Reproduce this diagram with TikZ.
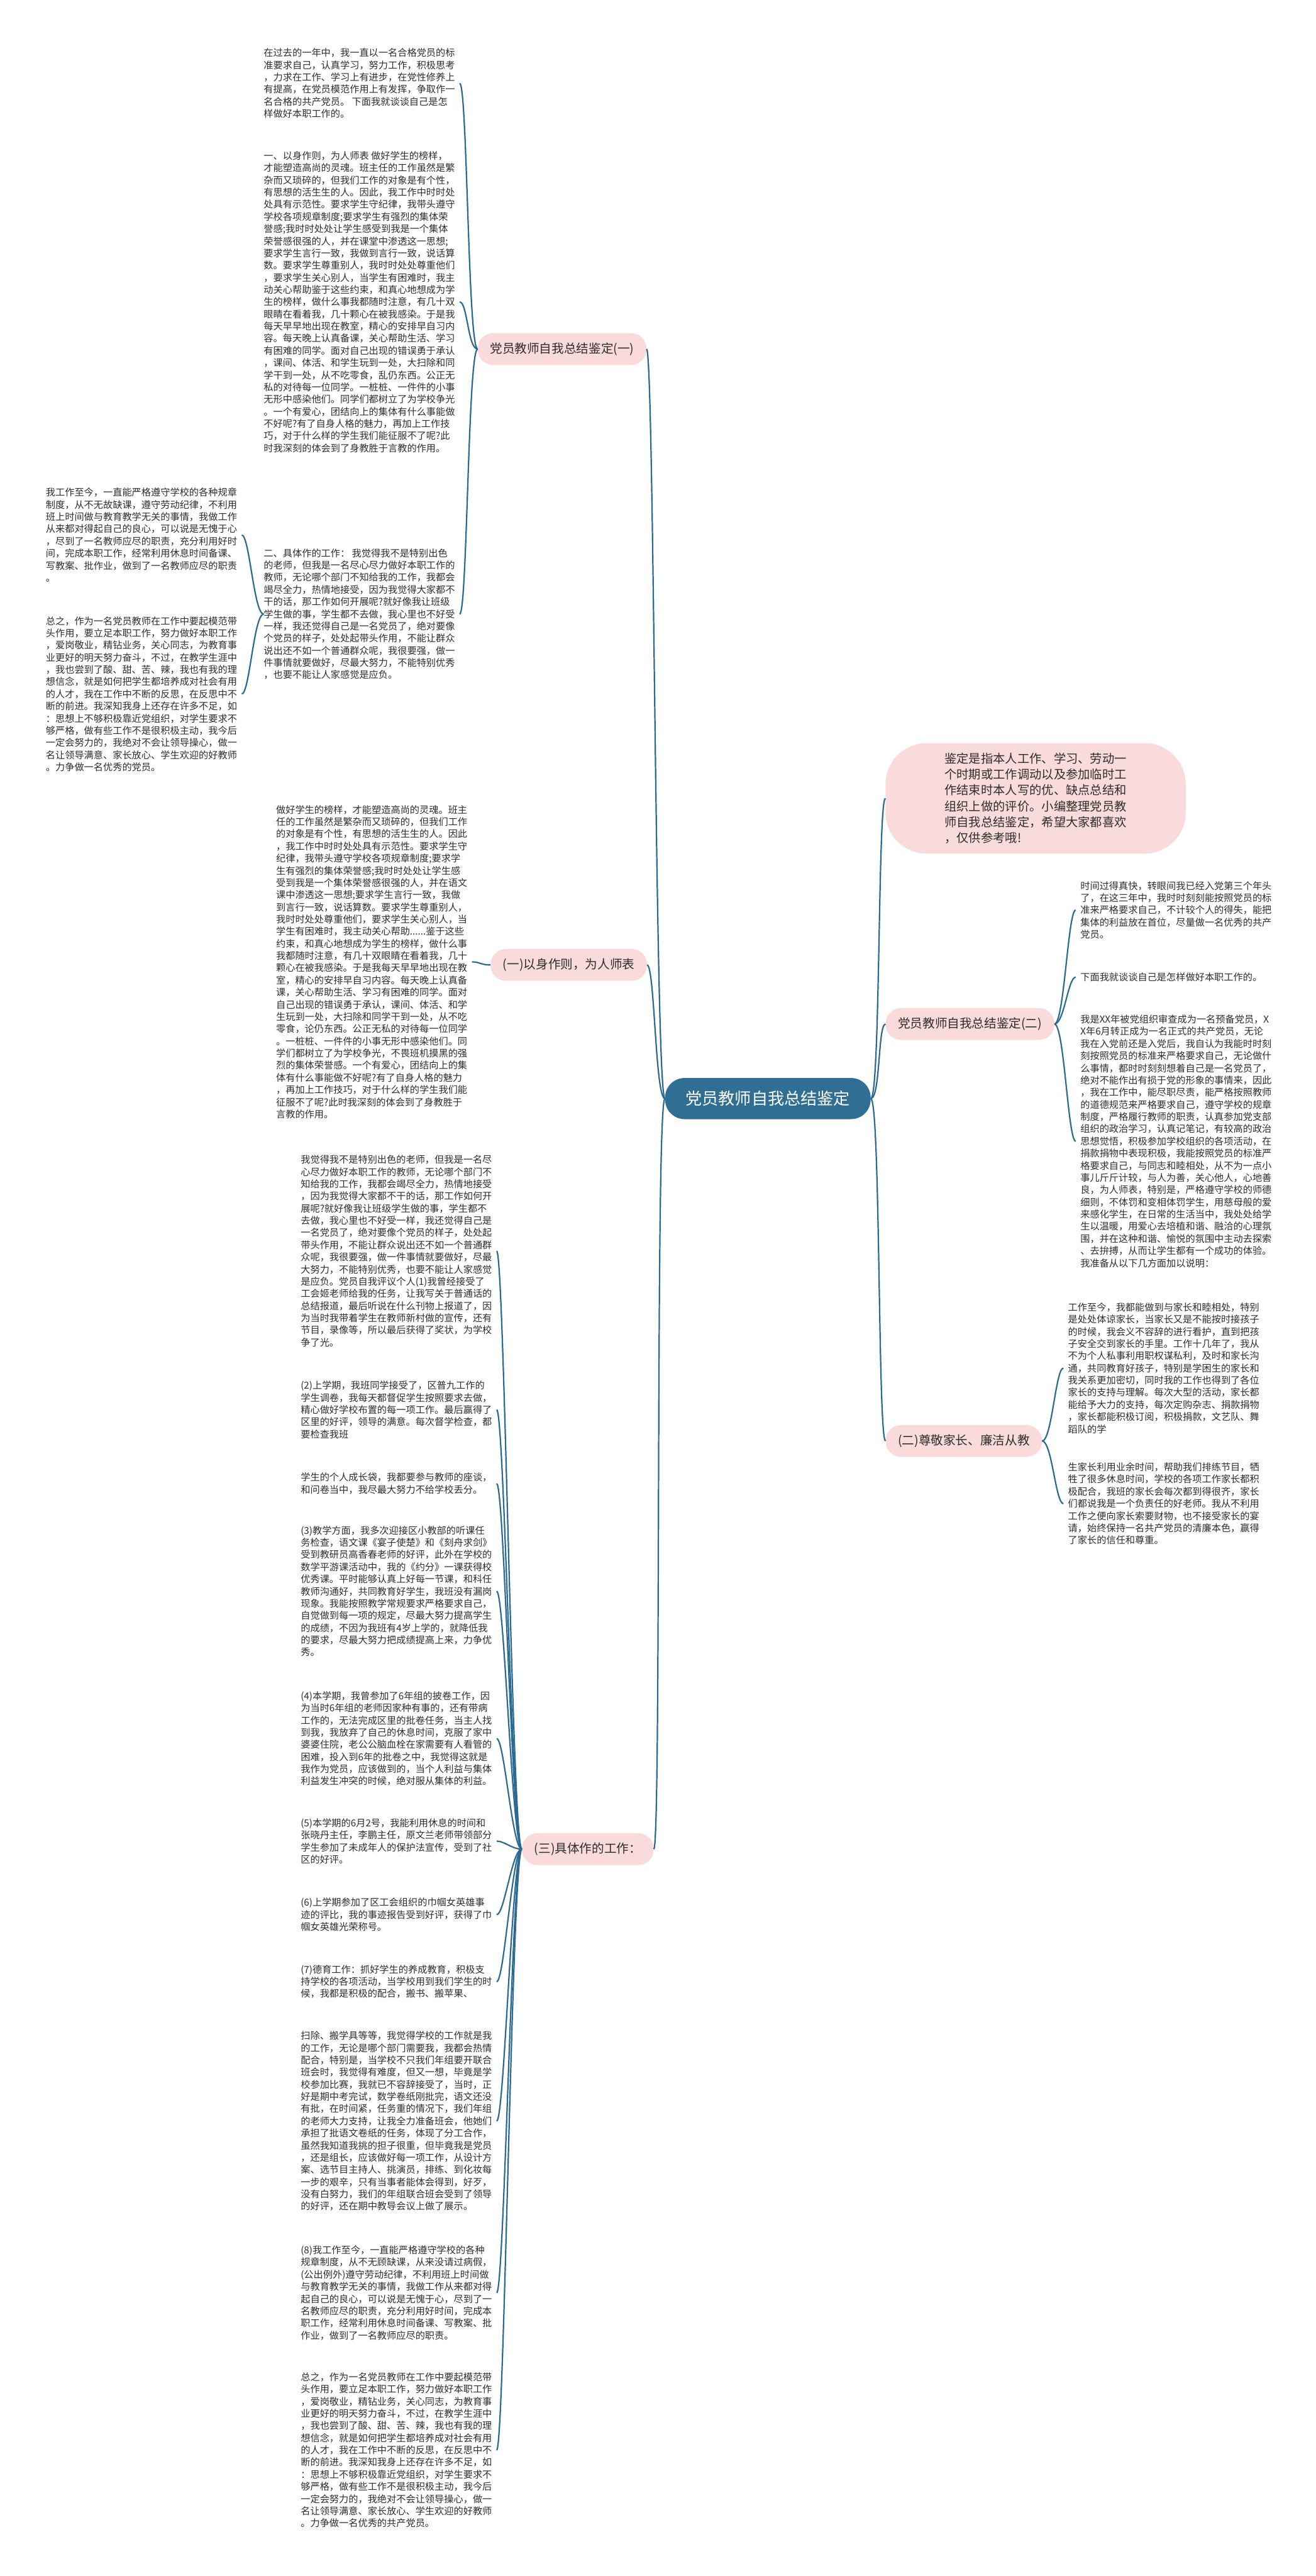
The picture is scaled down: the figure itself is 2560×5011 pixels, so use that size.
\documentclass[tikz,border=0pt]{standalone}
\usepackage{fontspec}
\newfontfamily\cjk{Noto Sans CJK SC}
\definecolor{linkblue}{RGB}{45,106,146}
\definecolor{rootblue}{RGB}{48,110,148}
\definecolor{pinkbg}{RGB}{250,219,219}
\definecolor{txtgray}{RGB}{45,45,45}
\begin{document}
\begin{tikzpicture}[x=1pt, y=-1pt,
  link/.style={draw=linkblue, line width=2.7pt},
  tol/.style={to path={.. controls ([xshift=-19pt]\tikztostart) and ([xshift=15pt]\tikztotarget) .. (\tikztotarget)}},
  tor/.style={to path={.. controls ([xshift=19pt]\tikztostart) and ([xshift=-15pt]\tikztotarget) .. (\tikztotarget)}},
  root/.style={fill=rootblue, text=white, rounded corners=38pt, minimum height=80pt, minimum width=400pt, font=\cjk\fontsize{32}{38}\selectfont},
  topic/.style={fill=pinkbg, text=txtgray, rounded corners=30pt, minimum height=62pt, inner xsep=24pt, font=\cjk\fontsize{24}{30}\selectfont},
  note/.style={fill=pinkbg, text=txtgray, rounded corners=80pt, minimum width=584pt, minimum height=215pt, align=left, font=\cjk\fontsize{23.6}{31}\selectfont},
  txt/.style={anchor=north west, inner sep=0pt, align=left, text=txtgray, font=\cjk\fontsize{18.6}{23.7}\selectfont}]
\fill[white] (0,0) rectangle (2560,5011);

% centre and main topics
\node[root] (root) at (1494,2137) {党员教师自我总结鉴定};
\node[topic, anchor=east] (part1) at (1258,679) {党员教师自我总结鉴定(一)};
\node[topic, anchor=east] (model) at (1259,1877) {(一)以身作则，为人师表};
\node[topic, anchor=east] (works) at (1272,3597) {(三)具体作的工作：};
\node[note] (intro) at (2015,1553) {鉴定是指本人工作、学习、劳动一\\个时期或工作调动以及参加临时工\\作结束时本人写的优、缺点总结和\\组织上做的评价。小编整理党员教\\师自我总结鉴定，希望大家都喜欢\\，仅供参考哦!};
\node[topic, anchor=west] (part2) at (1723,1992) {党员教师自我总结鉴定(二)};
\node[topic, anchor=west] (parents) at (1723,2803) {(二)尊敬家长、廉洁从教};

% texts of part one
\node[txt] (year) at (513,94) {在过去的一年中，我一直以一名合格党员的标\\准要求自己，认真学习，努力工作，积极思考\\，力求在工作、学习上有进步，在党性修养上\\有提高，在党员模范作用上有发挥，争取作一\\名合格的共产党员。 下面我就谈谈自己是怎\\样做好本职工作的。};
\node[txt] (first) at (513,294) {一、以身作则，为人师表 做好学生的榜样，\\才能塑造高尚的灵魂。班主任的工作虽然是繁\\杂而又琐碎的，但我们工作的对象是有个性，\\有思想的活生生的人。因此，我工作中时时处\\处具有示范性。要求学生守纪律，我带头遵守\\学校各项规章制度;要求学生有强烈的集体荣\\誉感;我时时处处让学生感受到我是一个集体\\荣誉感很强的人，并在课堂中渗透这一思想;\\要求学生言行一致，我做到言行一致，说话算\\数。要求学生尊重别人，我时时处处尊重他们\\，要求学生关心别人，当学生有困难时，我主\\动关心帮助鉴于这些约束，和真心地想成为学\\生的榜样，做什么事我都随时注意，有几十双\\眼睛在看着我，几十颗心在被我感染。于是我\\每天早早地出现在教室，精心的安排早自习内\\容。每天晚上认真备课，关心帮助生活、学习\\有困难的同学。面对自己出现的错误勇于承认\\，课间、体活、和学生玩到一处，大扫除和同\\学干到一处，从不吃零食，乱仍东西。公正无\\私的对待每一位同学。一桩桩、一件件的小事\\无形中感染他们。同学们都树立了为学校争光\\。一个有爱心，团结向上的集体有什么事能做\\不好呢?有了自身人格的魅力，再加上工作技\\巧，对于什么样的学生我们能征服不了呢?此\\时我深刻的体会到了身教胜于言教的作用。};
\node[txt] (second) at (513,1067) {二、具体作的工作： 我觉得我不是特别出色\\的老师，但我是一名尽心尽力做好本职工作的\\教师，无论哪个部门不知给我的工作，我都会\\竭尽全力，热情地接受，因为我觉得大家都不\\干的话，那工作如何开展呢?就好像我让班级\\学生做的事，学生都不去做，我心里也不好受\\一样，我还觉得自己是一名党员了，绝对要像\\个党员的样子，处处起带头作用，不能让群众\\说出还不如一个普通群众呢，我很要强，做一\\件事情就要做好，尽最大努力，不能特别优秀\\，也要不能让人家感觉是应负。};
\node[txt] (duty) at (89,949) {我工作至今，一直能严格遵守学校的各种规章\\制度，从不无故缺课，遵守劳动纪律，不利用\\班上时间做与教育教学无关的事情，我做工作\\从来都对得起自己的良心，可以说是无愧于心\\，尽到了一名教师应尽的职责，充分利用好时\\间，完成本职工作，经常利用休息时间备课、\\写教案、批作业，做到了一名教师应尽的职责\\。};
\node[txt] (sum) at (89,1199) {总之，作为一名党员教师在工作中要起模范带\\头作用，要立足本职工作，努力做好本职工作\\，爱岗敬业，精钻业务，关心同志，为教育事\\业更好的明天努力奋斗，不过，在教学生涯中\\，我也尝到了酸、甜、苦、辣，我也有我的理\\想信念，就是如何把学生都培养成对社会有用\\的人才，我在工作中不断的反思，在反思中不\\断的前进。我深知我身上还存在许多不足，如\\：思想上不够积极靠近党组织，对学生要求不\\够严格，做有些工作不是很积极主动，我今后\\一定会努力的，我绝对不会让领导操心，做一\\名让领导满意、家长放心、学生欢迎的好教师\\。力争做一名优秀的党员。};

% text of (一)
\node[txt] (example) at (537,1566) {做好学生的榜样，才能塑造高尚的灵魂。班主\\任的工作虽然是繁杂而又琐碎的，但我们工作\\的对象是有个性，有思想的活生生的人。因此\\，我工作中时时处处具有示范性。要求学生守\\纪律，我带头遵守学校各项规章制度;要求学\\生有强烈的集体荣誉感;我时时处处让学生感\\受到我是一个集体荣誉感很强的人，并在语文\\课中渗透这一思想;要求学生言行一致，我做\\到言行一致，说话算数。要求学生尊重别人，\\我时时处处尊重他们，要求学生关心别人，当\\学生有困难时，我主动关心帮助......鉴于这些\\约束，和真心地想成为学生的榜样，做什么事\\我都随时注意，有几十双眼睛在看着我，几十\\颗心在被我感染。于是我每天早早地出现在教\\室，精心的安排早自习内容。每天晚上认真备\\课，关心帮助生活、学习有困难的同学。面对\\自己出现的错误勇于承认，课间、体活、和学\\生玩到一处，大扫除和同学干到一处，从不吃\\零食，论仍东西。公正无私的对待每一位同学\\。一桩桩、一件件的小事无形中感染他们。同\\学们都树立了为学校争光，不畏班机摸黑的强\\烈的集体荣誉感。一个有爱心，团结向上的集\\体有什么事能做不好呢?有了自身人格的魅力\\，再加上工作技巧，对于什么样的学生我们能\\征服不了呢?此时我深刻的体会到了身教胜于\\言教的作用。};

% texts of (三)
\node[txt] (w1) at (585,2247) {我觉得我不是特别出色的老师，但我是一名尽\\心尽力做好本职工作的教师，无论哪个部门不\\知给我的工作，我都会竭尽全力，热情地接受\\，因为我觉得大家都不干的话，那工作如何开\\展呢?就好像我让班级学生做的事，学生都不\\去做，我心里也不好受一样，我还觉得自己是\\一名党员了，绝对要像个党员的样子，处处起\\带头作用，不能让群众说出还不如一个普通群\\众呢，我很要强，做一件事情就要做好，尽最\\大努力，不能特别优秀，也要不能让人家感觉\\是应负。党员自我评议个人(1)我曾经接受了\\工会姬老师给我的任务，让我写关于普通话的\\总结报道，最后听说在什么刊物上报道了，因\\为当时我带着学生在教师新村做的宣传，还有\\节目，录像等，所以最后获得了奖状，为学校\\争了光。};
\node[txt] (w2) at (585,2686) {(2)上学期，我班同学接受了，区普九工作的\\学生调卷，我每天都督促学生按照要求去做，\\精心做好学校布置的每一项工作。最后赢得了\\区里的好评，领导的满意。每次督学检查，都\\要检查我班};
\node[txt] (w3) at (585,2865) {学生的个人成长袋，我都要参与教师的座谈，\\和问卷当中，我尽最大努力不给学校丢分。};
\node[txt] (w4) at (585,2968) {(3)教学方面，我多次迎接区小教部的听课任\\务检查，语文课《宴子使楚》和《刻舟求剑》\\受到教研员高香春老师的好评，此外在学校的\\数学平游课活动中，我的《约分》一课获得校\\优秀课。平时能够认真上好每一节课，和科任\\教师沟通好，共同教育好学生，我班没有漏岗\\现象。我能按照教学常规要求严格要求自己，\\自觉做到每一项的规定，尽最大努力提高学生\\的成绩，不因为我班有4岁上学的，就降低我\\的要求，尽最大努力把成绩提高上来，力争优\\秀。};
\node[txt] (w5) at (585,3290) {(4)本学期，我曾参加了6年组的披卷工作，因\\为当时6年组的老师因家种有事的，还有带病\\工作的，无法完成区里的批卷任务，当主人找\\到我，我放弃了自己的休息时间，克服了家中\\婆婆住院，老公公脑血栓在家需要有人看管的\\困难，投入到6年的批卷之中，我觉得这就是\\我作为党员，应该做到的，当个人利益与集体\\利益发生冲突的时候，绝对服从集体的利益。};
\node[txt] (w6) at (585,3537) {(5)本学期的6月2号，我能利用休息的时间和\\张晓丹主任，李鹏主任，原文兰老师带领部分\\学生参加了未成年人的保护法宣传，受到了社\\区的好评。};
\node[txt] (w7) at (585,3692) {(6)上学期参加了区工会组织的巾帼女英雄事\\迹的评比，我的事迹报告受到好评，获得了巾\\帼女英雄光荣称号。};
\node[txt] (w8) at (585,3822) {(7)德育工作：抓好学生的养成教育，积极支\\持学校的各项活动，当学校用到我们学生的时\\候，我都是积极的配合，搬书、搬苹果、};
\node[txt] (w9) at (585,3951) {扫除、搬学具等等，我觉得学校的工作就是我\\的工作，无论是哪个部门需要我，我都会热情\\配合，特别是，当学校不只我们年组要开联合\\班会时，我觉得有难度，但又一想，毕竟是学\\校参加比赛，我就已不容辞接受了，当时，正\\好是期中考完试，数学卷纸刚批完，语文还没\\有批，在时间紧，任务重的情况下，我们年组\\的老师大力支持，让我全力准备班会，他她们\\承担了批语文卷纸的任务，体现了分工合作，\\虽然我知道我挑的担子很重，但毕竟我是党员\\，还是组长，应该做好每一项工作，从设计方\\案、选节目主持人、挑演员，排练、到化妆每\\一步的艰辛，只有当事者能体会得到，好歹，\\没有白努力，我们的年组联合班会受到了领导\\的好评，还在期中教导会议上做了展示。};
\node[txt] (w10) at (585,4368) {(8)我工作至今，一直能严格遵守学校的各种\\规章制度，从不无顾缺课，从来没请过病假，\\(公出例外)遵守劳动纪律，不利用班上时间做\\与教育教学无关的事情，我做工作从来都对得\\起自己的良心，可以说是无愧于心，尽到了一\\名教师应尽的职责，充分利用好时间，完成本\\职工作，经常利用休息时间备课、写教案、批\\作业，做到了一名教师应尽的职责。};
\node[txt] (w11) at (585,4615) {总之，作为一名党员教师在工作中要起模范带\\头作用，要立足本职工作，努力做好本职工作\\，爱岗敬业，精钻业务，关心同志，为教育事\\业更好的明天努力奋斗，不过，在教学生涯中\\，我也尝到了酸、甜、苦、辣，我也有我的理\\想信念，就是如何把学生都培养成对社会有用\\的人才，我在工作中不断的反思，在反思中不\\断的前进。我深知我身上还存在许多不足，如\\：思想上不够积极靠近党组织，对学生要求不\\够严格，做有些工作不是很积极主动，我今后\\一定会努力的，我绝对不会让领导操心，做一\\名让领导满意、家长放心、学生欢迎的好教师\\。力争做一名优秀的共产党员。};

% texts of part two
\node[txt] (time) at (2102,1714) {时间过得真快，转眼间我已经入党第三个年头\\了，在这三年中，我时时刻刻能按照党员的标\\准来严格要求自己，不计较个人的得失，能把\\集体的利益放在首位，尽量做一名优秀的共产\\党员。};
\node[txt] (talk) at (2102,1892) {下面我就谈谈自己是怎样做好本职工作的。};
\node[txt] (member) at (2102,1974) {我是XX年被党组织审查成为一名预备党员，X\\X年6月转正成为一名正式的共产党员，无论\\我在入党前还是入党后，我自认为我能时时刻\\刻按照党员的标准来严格要求自己，无论做什\\么事情，都时时刻刻想着自己是一名党员了，\\绝对不能作出有损于党的形象的事情来，因此\\，我在工作中，能尽职尽责，能严格按照教师\\的道德规范来严格要求自己，遵守学校的规章\\制度，严格履行教师的职责，认真参加党支部\\组织的政治学习，认真记笔记，有较高的政治\\思想觉悟，积极参加学校组织的各项活动，在\\捐款捐物中表现积极，我能按照党员的标准严\\格要求自己，与同志和睦相处，从不为一点小\\事儿斤斤计较，与人为善，关心他人，心地善\\良，为人师表，特别是，严格遵守学校的师德\\细则，不体罚和变相体罚学生，用慈母般的爱\\来感化学生，在日常的生活当中，我处处给学\\生以温暖，用爱心去培植和谐、融洽的心理氛\\围，并在这种和谐、愉悦的氛围中主动去探索\\、去拚搏，从而让学生都有一个成功的体验。\\我准备从以下几方面加以说明：};
\node[txt] (home) at (2078,2534) {工作至今，我都能做到与家长和睦相处，特别\\是处处体谅家长，当家长又是不能按时接孩子\\的时候，我会义不容辞的进行看护，直到把孩\\子安全交到家长的手里。工作十几年了，我从\\不为个人私事利用职权谋私利，及时和家长沟\\通，共同教育好孩子，特别是学困生的家长和\\我关系更加密切，同时我的工作也得到了各位\\家长的支持与理解。每次大型的活动，家长都\\能给予大力的支持，每次定购杂志、捐款捐物\\，家长都能积极订阅，积极捐款，文艺队、舞\\蹈队的学};
\node[txt] (help) at (2078,2845) {生家长利用业余时间，帮助我们排练节目，牺\\牲了很多休息时间，学校的各项工作家长都积\\极配合，我班的家长会每次都到得很齐，家长\\们都说我是一个负责任的好老师。我从不利用\\工作之便向家长索要财物，也不接受家长的宴\\请，始终保持一名共产党员的清廉本色，赢得\\了家长的信任和尊重。};

% connectors
\draw[link] (root.west) to[tol] (part1.east);
\draw[link] (root.west) to[tol] (model.east);
\draw[link] (root.west) to[tol] (works.east);
\draw[link] (root.east) to[tor] (intro.west);
\draw[link] (root.east) to[tor] (part2.west);
\draw[link] (root.east) to[tor] (parents.west);
\foreach \t in {year,first,second}
  \draw[link] (part1.west) to[tol] ([xshift=9pt]\t.east);
\foreach \t in {duty,sum}
  \draw[link] (second.west) to[tol] ([xshift=9pt]\t.east);
\draw[link] (model.west) to[tol] ([xshift=9pt]example.east);
\foreach \t in {w1,w2,w3,w4,w5,w6,w7,w8,w9,w10,w11}
  \draw[link] (works.west) to[tol] ([xshift=9pt]\t.east);
\foreach \t in {time,talk,member}
  \draw[link] (part2.east) to[tor] ([xshift=-9pt]\t.west);
\foreach \t in {home,help}
  \draw[link] (parents.east) to[tor] ([xshift=-9pt]\t.west);
\end{tikzpicture}
\end{document}
